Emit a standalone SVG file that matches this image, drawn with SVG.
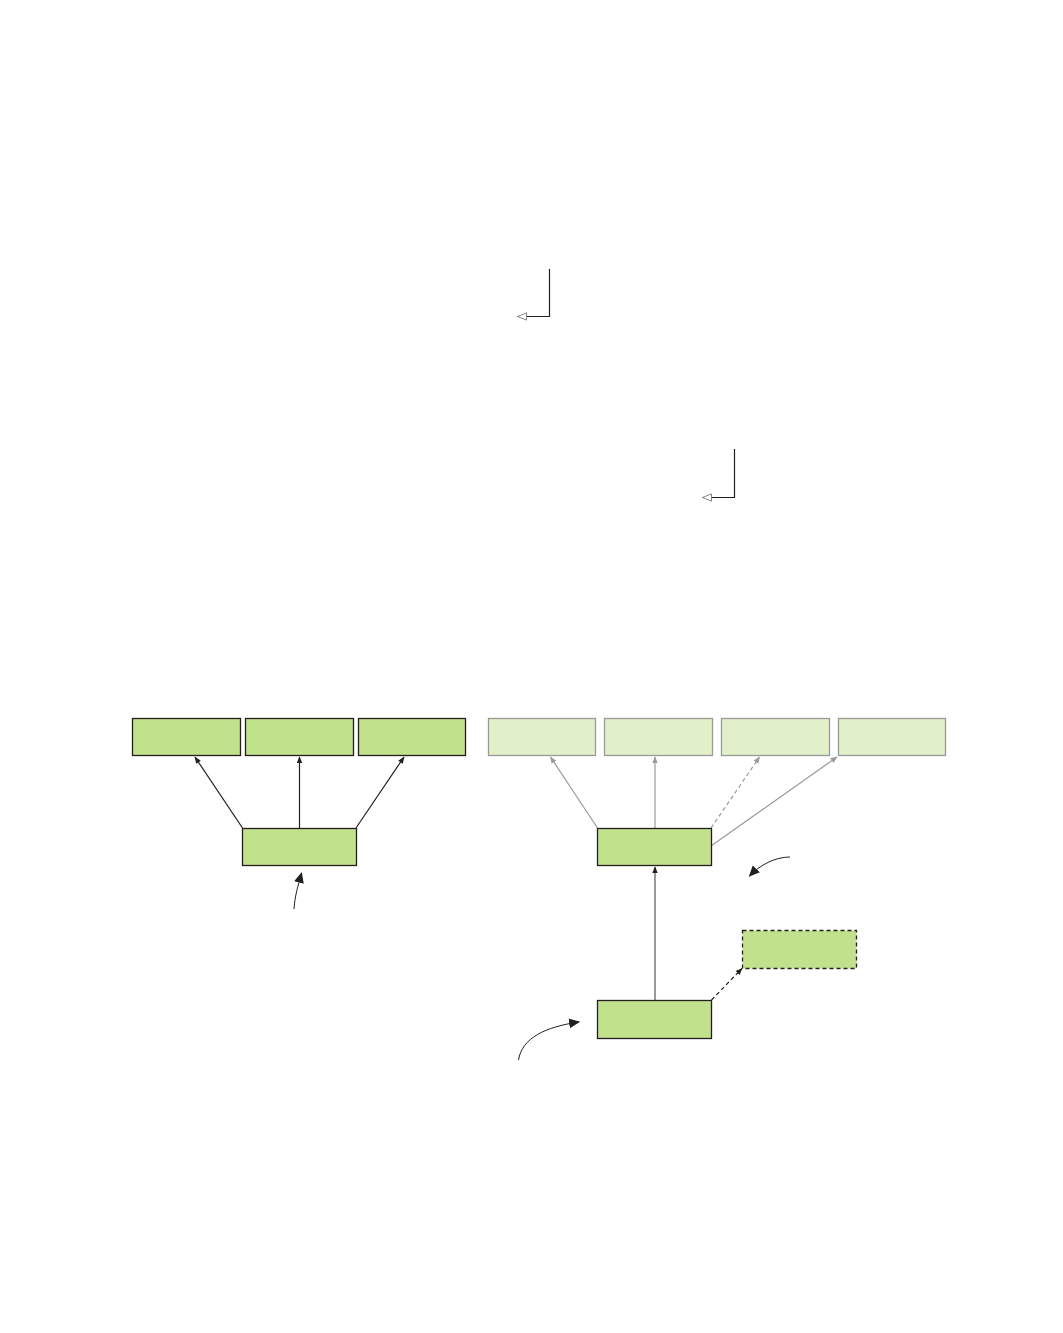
<svg xmlns="http://www.w3.org/2000/svg" width="1063" height="1333" viewBox="0 0 1063 1333">
<style>
.n{fill:#c1e18d;stroke:#231f20;stroke-width:1.3}
.l{fill:#e1f0c8;stroke:#999;stroke-width:1.3}
.d{fill:#c1e18d;stroke:#231f20;stroke-width:1.3;stroke-dasharray:4 3}
.k{fill:none;stroke:#231f20;stroke-width:1.2}
.g{fill:none;stroke:#9a9a9a;stroke-width:1.2}
.c{fill:none;stroke:#231f20;stroke-width:1}
</style>
<defs>
<marker id="ab" viewBox="0 0 10 10" refX="9" refY="5" markerWidth="7" markerHeight="7" markerUnits="userSpaceOnUse" orient="auto"><path d="M0,1 L10,5 L0,9 Z" fill="#231f20"/></marker>
<marker id="ag" viewBox="0 0 10 10" refX="9" refY="5" markerWidth="7" markerHeight="7" markerUnits="userSpaceOnUse" orient="auto"><path d="M0,1 L10,5 L0,9 Z" fill="#9a9a9a"/></marker>
<marker id="ac" viewBox="0 0 10 10" refX="9" refY="5" markerWidth="11" markerHeight="11" markerUnits="userSpaceOnUse" orient="auto"><path d="M0,0.5 L10,5 L0,9.5 Z" fill="#231f20"/></marker>
<marker id="ah" viewBox="0 0 12 10" refX="11" refY="5" markerWidth="11" markerHeight="9" markerUnits="userSpaceOnUse" orient="auto"><path d="M1,1 L11,5 L1,9 Z" fill="#fff" stroke="#777" stroke-width="1"/></marker>
</defs>
<rect width="1063" height="1333" fill="#fff"/>
<g id="connectors">
<path class="k" d="M549.5,269 V316.5 H517.5" marker-end="url(#ah)"/>
<path class="k" d="M734.5,449 V497.5 H702.5" marker-end="url(#ah)"/>
<line class="k" x1="242.5" y1="828" x2="195" y2="757" marker-end="url(#ab)"/>
<line class="k" x1="299.5" y1="828" x2="299.5" y2="757" marker-end="url(#ab)"/>
<line class="k" x1="356" y1="828" x2="404" y2="757" marker-end="url(#ab)"/>
<path class="c" d="M294,909 C295,895 298,886 301.5,873" marker-end="url(#ac)"/>
<line class="g" x1="597.5" y1="828" x2="550.5" y2="757" marker-end="url(#ag)"/>
<line class="g" x1="655" y1="828" x2="655" y2="757" marker-end="url(#ag)"/>
<line class="g" x1="711" y1="828" x2="759.5" y2="757" stroke-dasharray="4 3" marker-end="url(#ag)"/>
<line class="g" x1="711" y1="846" x2="837" y2="757" marker-end="url(#ag)"/>
<path class="c" d="M790,857 C775,857 760,865 749.5,876" marker-end="url(#ac)"/>
<line x1="655" y1="1000" x2="655" y2="867" stroke="#777" stroke-width="1.5" marker-end="url(#ab)"/>
<line class="k" x1="711.5" y1="1000" x2="742" y2="968.5" stroke-dasharray="4 3" marker-end="url(#ab)"/>
<path class="c" d="M518.5,1060 C522,1038 545,1027 579,1022" marker-end="url(#ac)"/>
</g>
<g id="left-top-1"><rect class="n" x="132.5" y="718.5" width="108" height="37"/></g>
<g id="left-top-2"><rect class="n" x="245.5" y="718.5" width="108" height="37"/></g>
<g id="left-top-3"><rect class="n" x="358.5" y="718.5" width="107" height="37"/></g>
<g id="left-center"><rect class="n" x="242.5" y="828.5" width="114" height="37"/></g>
<g id="right-top-1"><rect class="l" x="488.5" y="718.5" width="107" height="37"/></g>
<g id="right-top-2"><rect class="l" x="604.5" y="718.5" width="108" height="37"/></g>
<g id="right-top-3"><rect class="l" x="721.5" y="718.5" width="108" height="37"/></g>
<g id="right-top-4"><rect class="l" x="838.5" y="718.5" width="107" height="37"/></g>
<g id="right-center"><rect class="n" x="597.5" y="828.5" width="114" height="37"/></g>
<g id="right-dashed"><rect class="d" x="742.5" y="930.5" width="114" height="38"/></g>
<g id="right-bottom"><rect class="n" x="597.5" y="1000.5" width="114" height="38"/></g>
</svg>
